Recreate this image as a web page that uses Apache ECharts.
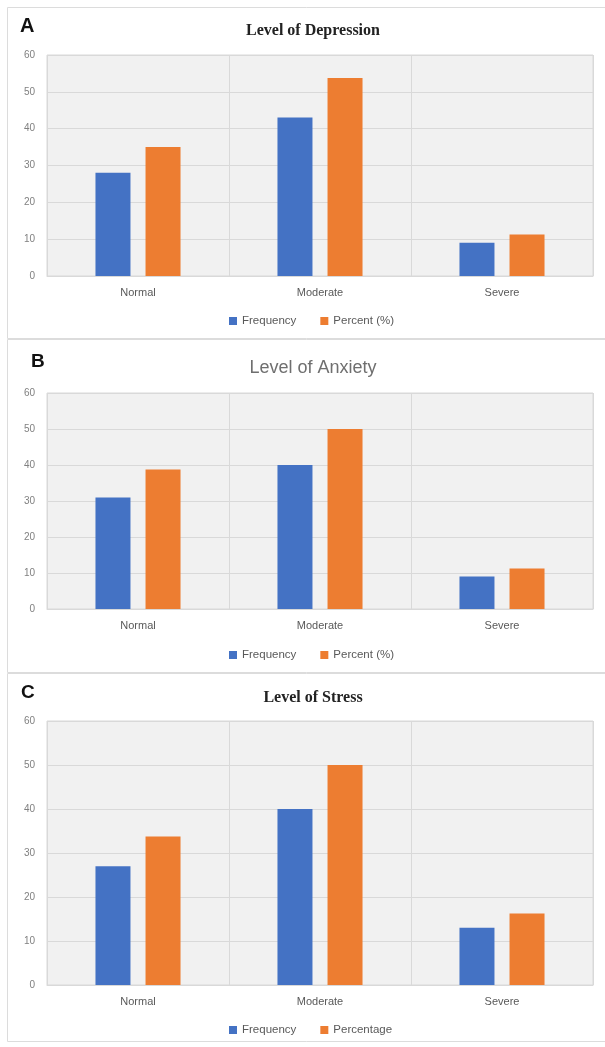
<!DOCTYPE html>
<html>
<head>
<meta charset="utf-8">
<script src="https://cdn.jsdelivr.net/npm/echarts@6/dist/echarts.min.js"></script>
<style>html,body{margin:0;padding:0;background:#fff}#c{width:605px;height:1047px}</style>
</head>
<body>
<div id="c"></div>
<script>
const categories = ['Normal', 'Moderate', 'Severe'];
const depressionFrequency = [28, 43, 9];
const depressionPercent = [35, 53.75, 11.25];
const anxietyFrequency = [31, 40, 9];
const anxietyPercent = [38.75, 50, 11.25];
const stressFrequency = [27, 40, 13];
const stressPercentage = [33.75, 50, 16.25];
const yMin = 0, yMax = 60, yStep = 10;

const BLUE = '#4472C4', ORANGE = '#ED7D31';
const SANS = 'Liberation Sans';
const grids = [
  {left: 47, width: 546, top: 55, height: 221},
  {left: 47, width: 546, top: 393, height: 216},
  {left: 47, width: 546, top: 721, height: 264}
].map(g => Object.assign(g, {show: true, backgroundColor: '#f1f1f1', borderColor: '#d9d9d9', borderWidth: 1}));

const xAxes = grids.map((g, i) => ({
  type: 'category', gridIndex: i, data: categories,
  axisLine: {show: true, lineStyle: {color: '#d9d9d9'}},
  axisTick: {show: false},
  splitLine: {show: true, lineStyle: {color: '#d9d9d9'}},
  axisLabel: {color: '#595959', fontFamily: SANS, fontSize: 11, margin: 11}
}));
const yAxes = grids.map((g, i) => ({
  type: 'value', gridIndex: i, min: yMin, max: yMax, interval: yStep,
  axisLine: {show: false}, axisTick: {show: false},
  splitLine: {lineStyle: {color: '#d9d9d9'}},
  axisLabel: {color: '#808080', fontFamily: SANS, fontSize: 10, margin: 12}
}));

function bar(name, data, idx, color) {
  return {type: 'bar', name, data, xAxisIndex: idx, yAxisIndex: idx,
    barWidth: 35, barGap: '43%', itemStyle: {color}};
}
const series = [
  bar('Frequency', depressionFrequency, 0, BLUE),
  bar('Percent (%)', depressionPercent, 0, ORANGE),
  bar('Frequency', anxietyFrequency, 1, BLUE),
  bar('Percent (%)', anxietyPercent, 1, ORANGE),
  bar('Frequency', stressFrequency, 2, BLUE),
  bar('Percentage', stressPercentage, 2, ORANGE)
];

function legend(top, names) {
  return {top, left: 224, data: names, itemWidth: 8, itemHeight: 8, itemGap: 24,
    icon: 'rect', selectedMode: false,
    textStyle: {color: '#595959', fontFamily: SANS, fontSize: 11.5}};
}

const option = {
  animation: false,
  backgroundColor: '#fff',
  title: [
    {text: 'Level of Depression', left: 308, textAlign: 'center', top: 18,
      textStyle: {fontFamily: 'Liberation Serif', fontWeight: 'bold', fontSize: 16, color: '#222'}},
    {text: 'Level of Anxiety', left: 308, textAlign: 'center', top: 354,
      textStyle: {fontFamily: SANS, fontWeight: 'normal', fontSize: 18, color: '#6f6f6f'}},
    {text: 'Level of Stress', left: 308, textAlign: 'center', top: 685,
      textStyle: {fontFamily: 'Liberation Serif', fontWeight: 'bold', fontSize: 16, color: '#222'}},
    {text: 'A', left: 15, top: 11, textStyle: {fontFamily: SANS, fontWeight: 'bold', fontSize: 20, color: '#111'}},
    {text: 'B', left: 26, top: 347, textStyle: {fontFamily: SANS, fontWeight: 'bold', fontSize: 19, color: '#111'}},
    {text: 'C', left: 16, top: 678, textStyle: {fontFamily: SANS, fontWeight: 'bold', fontSize: 19, color: '#111'}}
  ],
  legend: [
    legend(310, ['Frequency', 'Percent (%)']),
    legend(644, ['Frequency', 'Percent (%)']),
    legend(1019, ['Frequency', 'Percentage'])
  ],
  grid: grids,
  xAxis: xAxes,
  yAxis: yAxes,
  series,
  graphic: [
    {type: 'rect', silent: true, z: -1, shape: {x: 7.5, y: 7.5, width: 605, height: 331}, style: {fill: 'none', stroke: '#dcdcdc', lineWidth: 1}},
    {type: 'rect', silent: true, z: -1, shape: {x: 7.5, y: 339.5, width: 605, height: 333}, style: {fill: 'none', stroke: '#dcdcdc', lineWidth: 1}},
    {type: 'rect', silent: true, z: -1, shape: {x: 7.5, y: 673.5, width: 605, height: 368}, style: {fill: 'none', stroke: '#dcdcdc', lineWidth: 1}}
  ]
};
const chart = echarts.init(document.getElementById('c'), null, {renderer: 'canvas'});
chart.setOption(option);
</script>
</body>
</html>
